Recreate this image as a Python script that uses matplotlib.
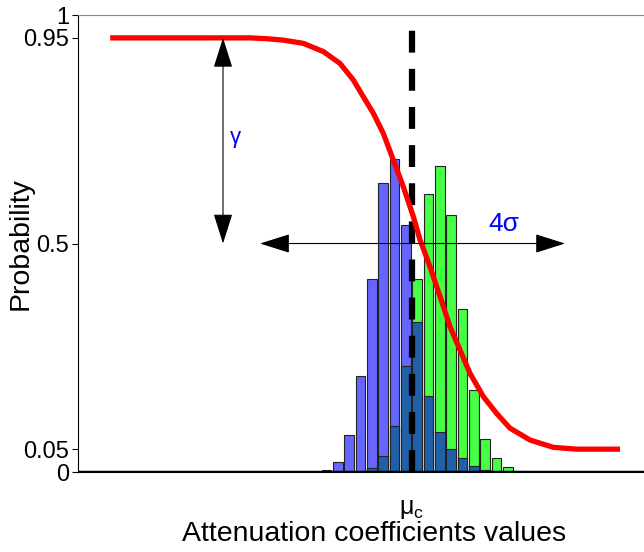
import numpy as np
import matplotlib
matplotlib.use('Agg')
import matplotlib.pyplot as plt

plt.rcParams['font.family'] = ['Liberation Sans', 'DejaVu Sans']
plt.rcParams['mathtext.fontset'] = 'custom'
plt.rcParams['mathtext.rm'] = 'Liberation Sans'
plt.rcParams['mathtext.it'] = 'Liberation Sans'

# histogram bins, offset from mu_c (one unit = one bin)
bins = [-7.5, -6.5, -5.5, -4.5, -3.5, -2.5, -1.5, -0.5, 0.5,
        1.5, 2.5, 3.5, 4.5, 5.5, 6.5, 7.5, 8.5, 9.5]
blue_h = [0.004, 0.023, 0.080, 0.211, 0.422, 0.633, 0.684, 0.540, 0.329,
          0.166, 0.088, 0.050, 0.031, 0.014, 0.004, 0.0, 0.0, 0.0]
green_h = [0.0, 0.0, 0.0, 0.0, 0.008, 0.035, 0.101, 0.232, 0.422,
           0.608, 0.670, 0.562, 0.356, 0.179, 0.073, 0.030, 0.012, 0.003]

# red probability curve
curve_x = [-26.6, -14.25, -12.7, -11.32, -9.55, -7.78, -6.31, -5.14, -4.25, -3.37,
           -2.49, -1.61, -0.72, 0.16, 0.75, 1.19, 1.63, 2.52, 3.40, 4.28,
           5.16, 6.34, 7.52, 8.69, 10.46, 12.52, 14.58, 18.40]
curve_y = [0.950, 0.950, 0.948, 0.945, 0.938, 0.920, 0.894, 0.858, 0.821, 0.785,
           0.741, 0.683, 0.624, 0.559, 0.508, 0.479, 0.449, 0.384, 0.318, 0.267,
           0.216, 0.165, 0.128, 0.096, 0.070, 0.054, 0.050, 0.050]

mu_c = 0.0
gamma_x = -16.64
sigma_span = [-13.37, 13.55]
y_ticks = [0, 0.05, 0.5, 0.95, 1]
y_labels = ['0', '0.05', '0.5', '0.95', '1']

fig = plt.figure(figsize=(6.44, 5.52), dpi=100)
ax = fig.add_axes([0.1211, 0.1449, 0.919, 0.8279])

overlap = np.minimum(blue_h, green_h)
ax.bar(bins, blue_h, width=0.86, color='#6666ff', edgecolor='#222222', linewidth=0.8, zorder=2)
ax.bar(bins, green_h, width=0.86, color='#44ff44', edgecolor='#222222', linewidth=0.8, zorder=2)
ax.bar(bins, overlap, width=0.86, color='#1f60a8', edgecolor='#222222', linewidth=0.8, zorder=2)

ax.axhline(0, color='black', lw=2.5, zorder=3)
ax.axvline(mu_c, color='black', lw=4.5, linestyle=(0, (3.5, 2.6)), zorder=4)
ax.plot(curve_x, curve_y, color='red', lw=3.8, zorder=5,
        solid_capstyle='butt', solid_joinstyle='round')

arrow = dict(arrowstyle='<|-|>,head_length=1.9,head_width=0.6', color='black',
             lw=0.8, shrinkA=0, shrinkB=0, mutation_scale=10)
ax.annotate('', xy=(gamma_x, 0.95), xytext=(gamma_x, 0.5), arrowprops=arrow, zorder=6)
ax.annotate('', xy=(sigma_span[0], 0.5), xytext=(sigma_span[1], 0.5), arrowprops=arrow, zorder=6)
ax.text(gamma_x + 1.1, 0.731, 'γ', color='blue', fontsize=16, ha='center', va='center')
ax.text(8.16, 0.543, '4σ', color='blue', fontsize=19, ha='center', va='center')

ax.set_xlim(-29.44, 22.8)
ax.set_ylim(0, 1)
ax.set_yticks(y_ticks)
ax.set_yticklabels(y_labels, fontsize=17)
ax.set_xticks([mu_c])
ax.set_xticklabels([r'$\mu_c$'], fontsize=18)
ax.tick_params(axis='x', length=0, pad=18)
ax.tick_params(axis='y', direction='out', length=4.5, width=0.8, pad=2)
ax.spines['top'].set_color('#888888')
ax.spines['left'].set_linewidth(0.8)
ax.set_xlabel('Attenuation coefficients values', fontsize=20.5, labelpad=0)
ax.set_ylabel('Probability', fontsize=20.5)
ax.yaxis.set_label_coords(-0.0743, 0.5)

fig.savefig('out.png', dpi=100)
